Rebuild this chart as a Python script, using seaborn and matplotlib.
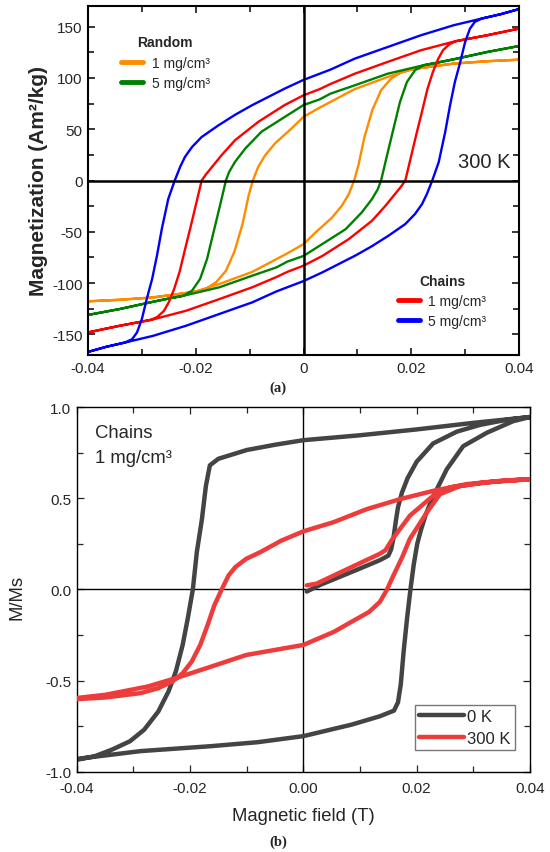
import numpy as np
import pandas as pd
import matplotlib
matplotlib.use("Agg")
import matplotlib.pyplot as plt
import seaborn as sns
from matplotlib.lines import Line2D
from matplotlib.ticker import MultipleLocator

# ---------------- data: panel (a), 300 K, Magnetization (Am2/kg) vs field (T) ----------------
# Random 1 mg/cm3 (orange)
rnd1_up_H = [0.040, 0.0341, 0.0279, 0.0218, 0.0198, 0.0181, 0.0156, 0.0095, 0.003, 0.0, -0.0022, -0.0053, -0.0071, -0.0084,
             -0.0094, -0.0102, -0.0113, -0.0128, -0.0144, -0.0162, -0.0181, -0.0198, -0.0218, -0.0279, -0.0341, -0.040]
rnd1_up_M = [117.7, 116.2, 113.9, 109.6, 107.8, 105.0, 100.8, 89.0, 71.0, 62.0, 50.8, 36.1, 24.7, 13.4,
             0.0, -15.0, -42.0, -69.0, -88.0, -99.0, -105.5, -107.8, -109.6, -113.9, -116.2, -117.7]
rnd1_dn_H = [-0.040, -0.0341, -0.0279, -0.0218, -0.0198, -0.0181, -0.0156, -0.0095, -0.003, 0.0, 0.0022, 0.0053, 0.0071, 0.0084,
             0.0094, 0.0102, 0.0113, 0.0128, 0.0144, 0.0162, 0.0181, 0.0198, 0.0218, 0.0279, 0.0341, 0.040]
rnd1_dn_M = [-117.7, -116.2, -113.9, -109.6, -107.8, -105.0, -100.8, -89.0, -71.0, -62.0, -50.8, -36.1, -24.7, -13.4,
             0.0, 15.0, 42.0, 69.0, 88.0, 99.0, 105.5, 107.8, 109.6, 113.9, 116.2, 117.7]

# Random 5 mg/cm3 (green)
rnd5_up_H = [0.040, 0.0341, 0.0279, 0.025, 0.0223, 0.0156, 0.0095, 0.005, 0.003, 0.0, -0.0034, -0.0078, -0.0108,
             -0.0127, -0.0138, -0.0144, -0.0155, -0.0167, -0.0179, -0.0192, -0.0207, -0.0223, -0.025, -0.0279, -0.0341, -0.040]
rnd5_up_M = [131.0, 125.2, 118.1, 115.0, 112.3, 104.0, 92.7, 84.6, 79.0, 73.5, 62.2, 47.5, 31.2,
             18.2, 8.4, 0.0, -24.4, -50.4, -76.4, -96.0, -107.4, -112.3, -115.0, -118.1, -125.2, -131.0]
rnd5_dn_H = [-0.040, -0.0341, -0.0279, -0.025, -0.0223, -0.0156, -0.0095, -0.005, -0.003, 0.0, 0.0034, 0.0078, 0.0108,
             0.0127, 0.0138, 0.0144, 0.0155, 0.0167, 0.0179, 0.0192, 0.0207, 0.0223, 0.025, 0.0279, 0.0341, 0.040]
rnd5_dn_M = [-131.0, -125.2, -118.1, -115.0, -112.3, -104.0, -92.7, -84.6, -79.0, -73.5, -62.2, -47.5, -31.2,
             -18.2, -8.4, 0.0, 24.4, 50.4, 76.4, 96.0, 107.4, 112.3, 115.0, 118.1, 125.2, 131.0]

# Chains 1 mg/cm3 (red)
chn1_up_H = [0.040, 0.0341, 0.0282, 0.0218, 0.0156, 0.0095, 0.005, 0.003, 0.0, -0.0035, -0.0084, -0.0127,
             -0.0152, -0.0167, -0.0181, -0.0189, -0.0199, -0.0209, -0.0218, -0.0230, -0.0240, -0.0250,
             -0.0259, -0.0271, -0.0283, -0.0341, -0.040]
chn1_up_M = [148.0, 141.5, 135.7, 126.9, 115.5, 104.0, 94.0, 89.0, 83.0, 73.5, 57.1, 39.3,
             24.7, 15.0, 6.0, 0.0, -22.0, -44.0, -63.0, -89.0, -105.5, -118.5,
             -127.0, -132.8, -135.7, -141.5, -148.0]
chn1_dn_H = [-0.040, -0.0341, -0.0282, -0.0218, -0.0156, -0.0095, -0.005, -0.003, 0.0, 0.0035, 0.0084, 0.0127,
             0.0152, 0.0167, 0.0181, 0.0189, 0.0199, 0.0209, 0.0218, 0.0230, 0.0240, 0.0250,
             0.0259, 0.0271, 0.0283, 0.0341, 0.040]
chn1_dn_M = [-148.0, -141.5, -135.7, -126.9, -115.5, -104.0, -94.0, -89.0, -83.0, -73.5, -57.1, -39.3,
             -24.7, -15.0, -6.0, 0.0, 22.0, 44.0, 63.0, 89.0, 105.5, 118.5,
             127.0, 132.8, 135.7, 141.5, 148.0]

# Chains 5 mg/cm3 (blue)
chn5_up_H = [0.040, 0.0366, 0.0331, 0.0279, 0.0218, 0.0156, 0.0095, 0.005, 0.003, 0.0, -0.0035, -0.0096, -0.0127,
             -0.0158, -0.0189, -0.0207, -0.0220, -0.0229, -0.0239, -0.0251, -0.0263, -0.0272, -0.0281,
             -0.0291, -0.0300, -0.0309, -0.0318, -0.0331, -0.0366, -0.040]
chn5_up_M = [167.0, 162.0, 157.8, 151.3, 141.5, 130.0, 118.7, 108.0, 104.0, 98.0, 89.5, 73.2, 64.0,
             53.7, 42.4, 32.6, 23.0, 13.2, 0.0, -17.9, -47.2, -73.2, -96.0,
             -115.5, -135.0, -148.0, -154.5, -157.8, -162.0, -167.0]
chn5_dn_H = [-0.040, -0.0366, -0.0331, -0.0279, -0.0218, -0.0156, -0.0095, -0.005, -0.003, 0.0, 0.0035, 0.0096, 0.0127,
             0.0158, 0.0189, 0.0207, 0.0220, 0.0229, 0.0239, 0.0251, 0.0263, 0.0272, 0.0281,
             0.0291, 0.0300, 0.0309, 0.0318, 0.0331, 0.0366, 0.040]
chn5_dn_M = [-167.0, -162.0, -157.8, -151.3, -141.5, -130.0, -118.7, -108.0, -104.0, -98.0, -89.5, -73.2, -64.0,
             -53.7, -42.4, -32.6, -23.0, -13.2, 0.0, 17.9, 47.2, 73.2, 96.0,
             115.5, 135.0, 148.0, 154.5, 157.8, 162.0, 167.0]

top_xticks = [-0.04, -0.02, 0.0, 0.02, 0.04]
top_xticklabels = ["-0.04", "-0.02", "0", "0.02", "0.04"]
top_yticks = [-150, -100, -50, 0, 50, 100, 150]
top_yticklabels = ["-150", "-100", "-50", "0", "50", "100", "150"]

# ---------------- data: panel (b), Chains 1 mg/cm3, M/Ms vs field (T) ----------------
k0_vir_H = [0.0006, 0.003, 0.0085, 0.0135, 0.0150, 0.0155, 0.0159, 0.0163, 0.0167, 0.0174, 0.0184,
            0.0200, 0.0229, 0.0271, 0.0312, 0.0359, 0.0400]
k0_vir_M = [-0.012, 0.025, 0.095, 0.16, 0.185, 0.22, 0.28, 0.37, 0.45, 0.53, 0.61,
            0.70, 0.80, 0.865, 0.902, 0.93, 0.945]
k0_up_H = [0.040, 0.030, 0.020, 0.010, 0.0, -0.005, -0.010, -0.015, -0.0165, -0.0172, -0.0179, -0.0188,
           -0.0195, -0.0204, -0.0213, -0.0225, -0.0238, -0.0256, -0.0281, -0.0306, -0.0337, -0.0368, -0.040]
k0_up_M = [0.945, 0.913, 0.877, 0.845, 0.818, 0.793, 0.764, 0.716, 0.680, 0.567, 0.385, 0.204,
           0.0, -0.16, -0.305, -0.45, -0.56, -0.67, -0.77, -0.833, -0.878, -0.915, -0.935]
k0_dn_H = [-0.040, -0.0287, -0.0163, -0.008, 0.0, 0.0085, 0.0135, 0.0160, 0.0167, 0.0172, 0.0177, 0.0183,
           0.0189, 0.0195, 0.0201, 0.0207, 0.0216, 0.0227, 0.0253, 0.0282, 0.0324, 0.0370, 0.0400]
k0_dn_M = [-0.93, -0.887, -0.86, -0.838, -0.805, -0.742, -0.696, -0.665, -0.62, -0.52, -0.34, -0.16,
           0.0, 0.14, 0.25, 0.32, 0.41, 0.495, 0.658, 0.785, 0.859, 0.922, 0.945]

k300_vir_H = [0.0006, 0.0023, 0.0085, 0.0135, 0.0145, 0.0156, 0.0188, 0.0229, 0.0259, 0.0318, 0.0400]
k300_vir_M = [0.022, 0.031, 0.122, 0.195, 0.215, 0.27, 0.404, 0.513, 0.559, 0.586, 0.604]
k300_up_H = [0.040, 0.0347, 0.0288, 0.0229, 0.0171, 0.0112, 0.0053, 0.0, -0.0039, -0.0076, -0.0101, -0.012,
             -0.0132, -0.0144, -0.0157, -0.0169, -0.0182, -0.0197, -0.0213, -0.0231, -0.0256, -0.0287,
             -0.0349, -0.040]
k300_up_M = [0.604, 0.595, 0.577, 0.54, 0.495, 0.44, 0.368, 0.318, 0.267, 0.204, 0.167, 0.122,
             0.076, 0.0, -0.087, -0.196, -0.305, -0.396, -0.46, -0.505, -0.542, -0.569,
             -0.593, -0.602]
k300_dn_H = [-0.040, -0.0349, -0.0275, -0.0225, -0.0163, -0.0101, 0.0, 0.0054, 0.0085, 0.0116, 0.0135,
             0.0147, 0.0159, 0.0175, 0.0188, 0.0218, 0.0241, 0.0277, 0.032, 0.036, 0.040]
k300_dn_M = [-0.596, -0.578, -0.533, -0.487, -0.424, -0.36, -0.305, -0.233, -0.178, -0.124, -0.069,
             -0.005, 0.076, 0.18, 0.277, 0.422, 0.522, 0.567, 0.585, 0.597, 0.604]

bot_xticks = [-0.04, -0.02, 0.0, 0.02, 0.04]
bot_xticklabels = ["-0.04", "-0.02", "0.00", "0.02", "0.04"]
bot_yticks = [-1.0, -0.5, 0.0, 0.5, 1.0]
bot_yticklabels = ["-1.0", "-0.5", "0.0", "0.5", "1.0"]

# ---------------- styling ----------------
sns.set_style("ticks")
plt.rcParams["font.family"] = ["Liberation Sans", "DejaVu Sans"]
plt.rcParams["axes.unicode_minus"] = False

C_ORANGE = "#FF8C00"
C_GREEN = "#008000"
C_RED = "#FF0000"
C_BLUE = "#0000FF"
C_GRAY = "#444444"
C_RED2 = "#EE3B3B"


def loop_frame(*branches):
    parts = []
    for H, M in branches:
        parts.append(pd.DataFrame({"H": H, "M": M}))
    return pd.concat(parts, ignore_index=True)


fig = plt.figure(figsize=(5.5, 8.53), dpi=100)
W, Hh = 550.0, 853.0
ax1 = fig.add_axes([88 / W, 1 - 356 / Hh, 431 / W, 349 / Hh])
ax2 = fig.add_axes([76.7 / W, 1 - 772.7 / Hh, 453.3 / W, 364.7 / Hh])

# ---------- panel (a) ----------
for (up, dn, col) in [((rnd1_up_H, rnd1_up_M), (rnd1_dn_H, rnd1_dn_M), C_ORANGE),
                      ((rnd5_up_H, rnd5_up_M), (rnd5_dn_H, rnd5_dn_M), C_GREEN),
                      ((chn1_up_H, chn1_up_M), (chn1_dn_H, chn1_dn_M), C_RED),
                      ((chn5_up_H, chn5_up_M), (chn5_dn_H, chn5_dn_M), C_BLUE)]:
    df = loop_frame(up, dn)
    sns.lineplot(data=df, x="H", y="M", sort=False, estimator=None, color=col, lw=1.7,
                 ax=ax1, legend=False, zorder=2)

ax1.axhline(0, color="black", lw=1.8, zorder=3)
ax1.axvline(0, color="black", lw=1.8, zorder=3)
ax1.set_xlim(-0.04, 0.04)
ax1.set_ylim(-170, 170)
ax1.set_xticks(top_xticks)
ax1.set_xticklabels(top_xticklabels)
ax1.set_yticks(top_yticks)
ax1.set_yticklabels(top_yticklabels)
ax1.xaxis.set_minor_locator(MultipleLocator(0.01))
ax1.yaxis.set_minor_locator(MultipleLocator(25))
ax1.tick_params(which="both", direction="in", top=True, right=True, width=1.3, labelsize=11, pad=4)
ax1.tick_params(which="major", length=5)
ax1.tick_params(which="minor", length=4)
for s in ax1.spines.values():
    s.set_linewidth(1.5)
    s.set_color("black")
ax1.set_xlabel("")
ax1.set_ylabel("Magnetization (Am²/kg)", fontsize=15, fontweight="bold")
ax1.yaxis.set_label_coords(-0.093, 0.5)

ax1.text(0.0384, 18.7, "300 K", fontsize=14.5, ha="right", va="center")

leg_rand = ax1.legend(handles=[Line2D([], [], color=C_ORANGE, lw=3.5), Line2D([], [], color=C_GREEN, lw=3.5)],
                      labels=["1 mg/cm³", "5 mg/cm³"], title="Random", loc="upper left",
                      bbox_to_anchor=(0.0766, 0.9155), borderaxespad=0, borderpad=0, frameon=False,
                      fontsize=10, title_fontproperties={"weight": "bold", "size": 10},
                      handlelength=1.6, handletextpad=0.6, labelspacing=0.45)
ax1.add_artist(leg_rand)
ax1.legend(handles=[Line2D([], [], color=C_RED, lw=3.5), Line2D([], [], color=C_BLUE, lw=3.5)],
           labels=["1 mg/cm³", "5 mg/cm³"], title="Chains", loc="upper left",
           bbox_to_anchor=(0.719, 0.2335), borderaxespad=0, borderpad=0, frameon=False,
           fontsize=10, title_fontproperties={"weight": "bold", "size": 10},
           handlelength=1.6, handletextpad=0.6, labelspacing=0.45)

# ---------- panel (b) ----------
df0 = loop_frame((k0_vir_H, k0_vir_M), (k0_up_H, k0_up_M), (k0_dn_H, k0_dn_M))
df300 = loop_frame((k300_vir_H, k300_vir_M), (k300_up_H, k300_up_M), (k300_dn_H, k300_dn_M))
ax2.axhline(0, color="black", lw=1.0, zorder=1)
ax2.axvline(0, color="black", lw=1.0, zorder=1)
sns.lineplot(data=df0, x="H", y="M", sort=False, estimator=None, color=C_GRAY, lw=3.2, ax=ax2,
             legend=False, zorder=2)
sns.lineplot(data=df300, x="H", y="M", sort=False, estimator=None, color=C_RED2, lw=3.2, ax=ax2,
             legend=False, zorder=3)
ax2.set_xlim(-0.04, 0.04)
ax2.set_ylim(-1.0, 1.0)
ax2.set_xticks(bot_xticks)
ax2.set_xticklabels(bot_xticklabels)
ax2.set_yticks(bot_yticks)
ax2.set_yticklabels(bot_yticklabels)
ax2.xaxis.set_minor_locator(MultipleLocator(0.01))
ax2.yaxis.set_minor_locator(MultipleLocator(0.25))
ax2.tick_params(which="both", direction="in", top=True, right=True, width=0.9, labelsize=11)
ax2.tick_params(which="major", length=5)
ax2.tick_params(which="minor", length=4)
ax2.tick_params(axis="x", pad=7)
ax2.tick_params(axis="y", pad=4)
for s in ax2.spines.values():
    s.set_linewidth(1.0)
    s.set_color("black")
ax2.set_xlabel("Magnetic field (T)", fontsize=13.3)
ax2.set_ylabel("M/Ms", fontsize=13.3)
ax2.xaxis.set_label_coords(0.5, -0.098)
ax2.yaxis.set_label_coords(-0.112, 0.48)

ax2.text(0.0404, 0.917, "Chains", transform=ax2.transAxes, fontsize=13.3, ha="left", va="baseline")
ax2.text(0.0404, 0.848, "1 mg/cm³", transform=ax2.transAxes, fontsize=13.3, ha="left", va="baseline")

leg2 = ax2.legend(handles=[Line2D([], [], color=C_GRAY, lw=3.2), Line2D([], [], color=C_RED2, lw=3.2)],
                  labels=["0 K", "300 K"], loc="lower right", bbox_to_anchor=(0.967, 0.0595),
                  borderaxespad=0, borderpad=0.25, fontsize=12, handlelength=2.7, handletextpad=0.2,
                  labelspacing=0.42, fancybox=False, frameon=True, framealpha=1)
leg2.get_frame().set_edgecolor("#777777")
leg2.get_frame().set_linewidth(1.0)

fig.text(278 / W, 1 - 388 / Hh, "(a)", ha="center", va="center", fontsize=10.5, fontweight="bold",
         family=["Liberation Serif", "DejaVu Serif"])
fig.text(278 / W, 1 - 842 / Hh, "(b)", ha="center", va="center", fontsize=10.5, fontweight="bold",
         family=["Liberation Serif", "DejaVu Serif"])

fig.savefig("out.png", dpi=100)
